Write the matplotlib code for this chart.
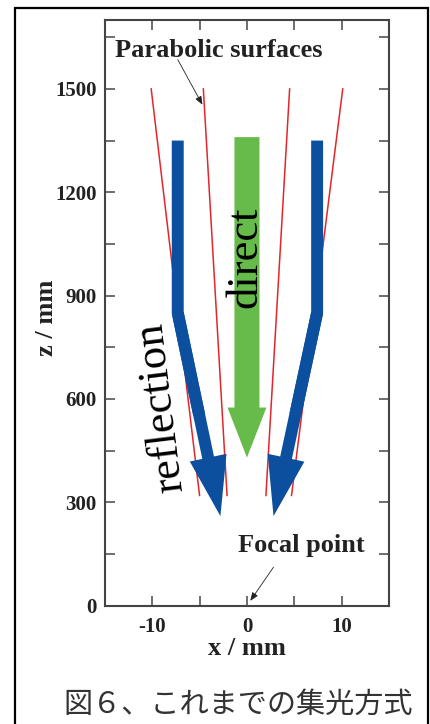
import matplotlib
matplotlib.use('Agg')
import matplotlib.pyplot as plt
from matplotlib.patches import Rectangle

plt.rcParams['font.family'] = ['Liberation Serif', 'DejaVu Serif']

# 放物面（赤線）の端点: z=1500 と z=320 での x
surf_z = [1500, 320]
surf_xs = [
    [-10.1, -5.0],
    [-4.6, -2.1],
    [4.5, 2.0],
    [10.1, 4.7],
]

# 反射光の矢印（青）: 上端 -> 折れ点 -> 先端
refl_z = [1350, 850, 260]
refl_left_x = [-7.3, -7.3, -2.8]
refl_right_x = [7.4, 7.4, 2.8]

# 直接光の矢印（緑）
direct_x = [0, 0]
direct_z = [1360, 430]

xticks_major = [-10, 0, 10]
xtick_labels = ['-10', '0', '10']
xticks_minor = [-5, 5]
yticks_major = [0, 300, 600, 900, 1200, 1500]
ytick_labels = ['0', '300', '600', '900', '1200', '1500']
yticks_minor = [150, 450, 750, 1050, 1350, 1650]

red = '#e3262b'
blue = '#0c4f9f'
green = '#66bb4b'

fig = plt.figure(figsize=(4.31, 7.24), dpi=100)
ax = fig.add_axes([0.243, 0.1634, 0.660, 0.809])

# 放物面
for xs in surf_xs:
    ax.plot(xs, surf_z, color=red, lw=1.1)

# 反射光
for xs in (refl_left_x, refl_right_x):
    mid_x = xs[1] + 0.5 * (xs[2] - xs[1])
    mid_z = refl_z[1] + 0.5 * (refl_z[2] - refl_z[1])
    ax.plot([xs[0], xs[1], mid_x], [refl_z[0], refl_z[1], mid_z], color=blue,
            lw=8.6, solid_capstyle='butt', solid_joinstyle='miter')
    ax.annotate('', xy=(xs[2], refl_z[2]), xytext=(xs[1], refl_z[1]),
                arrowprops=dict(arrowstyle='simple,head_length=43,head_width=27,tail_width=8.6',
                                mutation_scale=1, color=blue, lw=0,
                                shrinkA=0, shrinkB=0))

# 直接光
ax.annotate('', xy=(direct_x[1], direct_z[1]), xytext=(direct_x[0], direct_z[0]),
            arrowprops=dict(arrowstyle='simple,head_length=36,head_width=28,tail_width=18',
                            mutation_scale=1, color=green, lw=0,
                            shrinkA=0, shrinkB=0))

ax.text(-0.2, 1011, 'direct', rotation=90, fontsize=32, ha='center', va='center')
ax.text(-9.1, 574, 'reflection', rotation=97, fontsize=32, ha='center', va='center')

ax.text(-13.9, 1594, 'Parabolic surfaces', fontsize=19, fontweight='bold',
        ha='left', va='baseline', color='#222222')
ax.annotate('', xy=(-4.7, 1454), xytext=(-7.3, 1585),
            arrowprops=dict(arrowstyle='-|>,head_length=0.5,head_width=0.2',
                            color='#222222', lw=0.6, shrinkA=0, shrinkB=0))

ax.text(-0.9, 156, 'Focal point', fontsize=19, fontweight='bold',
        ha='left', va='baseline', color='#222222')
ax.annotate('', xy=(0.35, 14), xytext=(2.8, 112),
            arrowprops=dict(arrowstyle='-|>,head_length=0.5,head_width=0.2',
                            color='#222222', lw=0.6, shrinkA=0, shrinkB=0))

ax.set_xlim(-15, 15)
ax.set_ylim(0, 1700)
ax.set_xticks(xticks_major)
ax.set_xticklabels(xtick_labels)
ax.set_xticks(xticks_minor, minor=True)
ax.set_yticks(yticks_major)
ax.set_yticklabels(ytick_labels)
ax.set_yticks(yticks_minor, minor=True)
ax.tick_params(which='both', direction='in', top=True, right=True,
               length=7, width=1.2, color='#555555')
ax.tick_params(axis='y', pad=6)
ax.tick_params(axis='x', pad=8)
for lab in ax.get_xticklabels() + ax.get_yticklabels():
    lab.set_fontsize(15)
    lab.set_fontweight('bold')
    lab.set_color('#222222')
for sp in ax.spines.values():
    sp.set_linewidth(1.5)
    sp.set_color('#444444')

ax.set_xlabel('x / mm', fontsize=19, fontweight='bold', color='#222222')
ax.set_ylabel('z / mm', fontsize=19, fontweight='bold', color='#222222')
ax.xaxis.set_label_coords(0.5, -0.053)
ax.yaxis.set_label_coords(-0.164, 0.492)

# 外枠
fig.patches.append(Rectangle((15 / 431, -0.05), 413 / 431, 1.05 - 8 / 724,
                             transform=fig.transFigure, fill=False,
                             edgecolor='black', lw=1.6, clip_on=False))

fig.text(0.552, 0.027, '図６、これまでの集光方式', family=['Noto Sans CJK JP'],
         fontsize=21, color='#333333', ha='center', va='center')

fig.savefig('out.png', dpi=100)
